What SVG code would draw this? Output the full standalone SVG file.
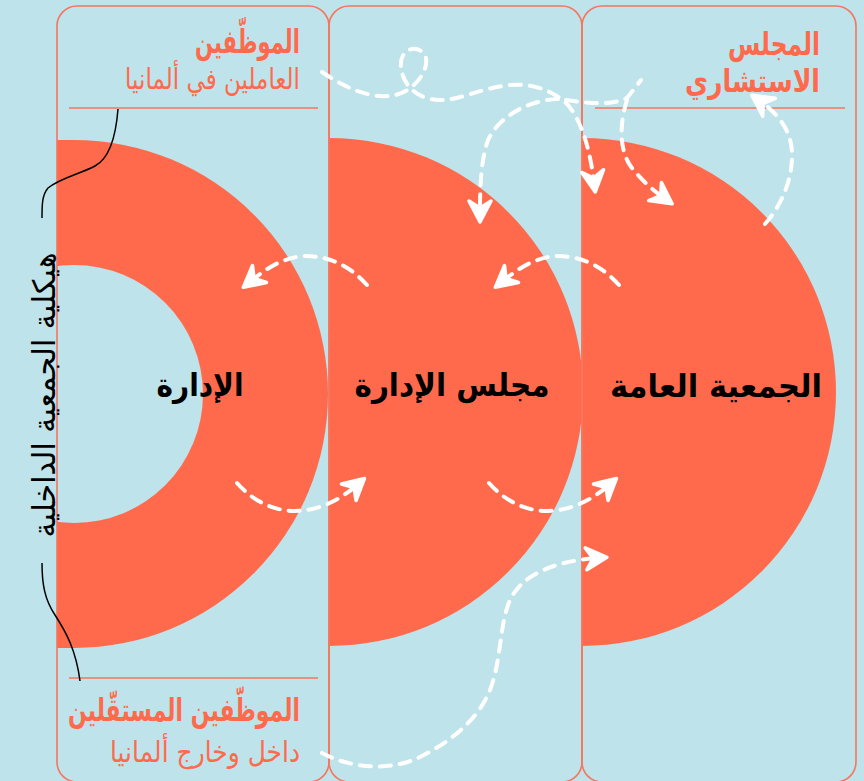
<svg xmlns="http://www.w3.org/2000/svg" width="864" height="781" viewBox="0 0 864 781">
<defs>
<style>
.col{fill:none;stroke:#F5765D;stroke-width:1.6}
.rule{stroke:#F5765D;stroke-width:1.6}
.disk{fill:#FF6A4C}
.ct{font-family:"DejaVu Sans",sans-serif;fill:#FF6A4C}
.lbl{font-family:"DejaVu Sans",sans-serif;font-weight:bold;fill:#000;font-size:32px}
.brace{fill:none;stroke:#000;stroke-width:1.5}
.dash{fill:none;stroke:#fff;stroke-width:4;stroke-linecap:round;stroke-dasharray:11 9;marker-end:url(#ah)}
.dashn{fill:none;stroke:#fff;stroke-width:4;stroke-linecap:round;stroke-dasharray:11 9}
</style>
<marker id="ah" markerUnits="userSpaceOnUse" viewBox="-16 -14 28 28" markerWidth="28" markerHeight="28" refX="0" refY="0" orient="auto" overflow="visible">
<path d="M10,0 L-11,-11 L-4,0 L-11,11 Z" fill="#fff" stroke="#fff" stroke-width="3.5" stroke-linejoin="round"/>
</marker>
<mask id="hole">
<rect x="0" y="0" width="864" height="781" fill="#fff"/>
<circle cx="74" cy="394" r="129" fill="#000"/>
</mask>
</defs>
<rect x="0" y="0" width="864" height="781" fill="#BEE3EB"/>
<g id="disks">
<path class="disk" d="M57,140 L74,140 A254,254 0 0 1 74,648 L57,648 Z" mask="url(#hole)"/>
<path class="disk" d="M329,138 A254,254 0 0 1 329,646 Z"/>
<path class="disk" d="M582,138 A254,254 0 0 1 582,646 Z"/>
</g>
<g id="columns">
<rect class="col" x="57" y="6" width="272" height="776" rx="20"/>
<rect class="col" x="329" y="6" width="253" height="776" rx="20"/>
<rect class="col" x="582" y="6" width="274" height="776" rx="20"/>
<line class="rule" x1="69" y1="108" x2="318" y2="108"/>
<line class="rule" x1="595" y1="108" x2="845" y2="108"/>
<line class="rule" x1="69" y1="678" x2="318" y2="678"/>
</g>
<g id="node-employees-germany">
<text class="ct" x="300" y="53" font-size="33" font-weight="bold" text-anchor="end" textLength="105" lengthAdjust="spacingAndGlyphs">الموظّفين</text>
<text class="ct" x="300" y="89" font-size="29" text-anchor="end" textLength="175" lengthAdjust="spacingAndGlyphs">العاملين في ألمانيا</text>
</g>
<g id="node-advisory">
<text class="ct" x="820" y="55" font-size="32" font-weight="bold" text-anchor="end" textLength="92" lengthAdjust="spacingAndGlyphs">المجلس</text>
<text class="ct" x="820" y="92" font-size="32" font-weight="bold" text-anchor="end" textLength="135" lengthAdjust="spacingAndGlyphs">الاستشاري</text>
</g>
<g id="node-freelancers">
<text class="ct" x="300" y="721" font-size="32" font-weight="bold" text-anchor="end" textLength="232" lengthAdjust="spacingAndGlyphs">الموظّفين المستقّلين</text>
<text class="ct" x="300" y="762" font-size="29" text-anchor="end" textLength="190" lengthAdjust="spacingAndGlyphs">داخل وخارج ألمانيا</text>
</g>
<g id="node-structure">
<text transform="translate(55,395) rotate(-90)" x="0" y="0" font-family="DejaVu Sans,sans-serif" font-size="31" fill="#000" text-anchor="middle" textLength="285" lengthAdjust="spacingAndGlyphs">هيكلية الجمعية الداخلية</text>
<path class="brace" d="M118,109 C116,135 110,158 95,166 C80,174 60,178 48,188 C42,195 42,205 42,218"/>
<path class="brace" d="M42,563 C42,585 45,600 55,615 C66,632 76,650 80,681"/>
</g>
<g id="node-management">
<text class="lbl" x="200" y="396" text-anchor="middle" textLength="87" lengthAdjust="spacingAndGlyphs">الإدارة</text>
</g>
<g id="node-board">
<text class="lbl" x="452" y="396" text-anchor="middle" textLength="195" lengthAdjust="spacingAndGlyphs">مجلس الإدارة</text>
</g>
<g id="node-general-assembly">
<text class="lbl" x="716" y="397" text-anchor="middle" textLength="212" lengthAdjust="spacingAndGlyphs">الجمعية العامة</text>
</g>
<g id="connectors">
<path class="dash" d="M322,72 C345,88 372,100 395,95 C410,92 424,78 426,64 C428,52 418,48 412,49 C402,51 398,62 403,76 C408,90 422,100 440,100 C462,100 480,88 510,85 C535,83 555,92 568,105 C582,122 590,150 594,182"/>
<path class="dash" d="M558,99 C530,100 500,115 488,140 C481,160 480,185 480,212"/>
<path class="dashn" d="M566,100 C588,103 610,106 627,98 L641,80"/>
<path class="dash" d="M627,100 C620,122 618,150 632,168 C642,180 650,188 664,198"/>
<path class="dash" d="M765,224 C782,205 793,178 792,152 C791,132 780,115 760,101"/>
<path class="dash" d="M367,285 C350,266 330,256 305,256 C285,257 268,267 251,281"/>
<path class="dash" d="M619,285 C602,266 582,256 557,256 C537,257 520,267 503,281"/>
<path class="dash" d="M237,483 C252,500 272,511 295,511 C318,511 340,500 357,485"/>
<path class="dash" d="M489,483 C504,500 524,511 547,511 C570,511 592,500 609,485"/>
<path class="dash" d="M322,753 C350,768 390,772 420,757 C450,742 478,720 490,690 C500,665 500,630 507,608 C515,580 545,562 597,558"/>
</g>
</svg>
